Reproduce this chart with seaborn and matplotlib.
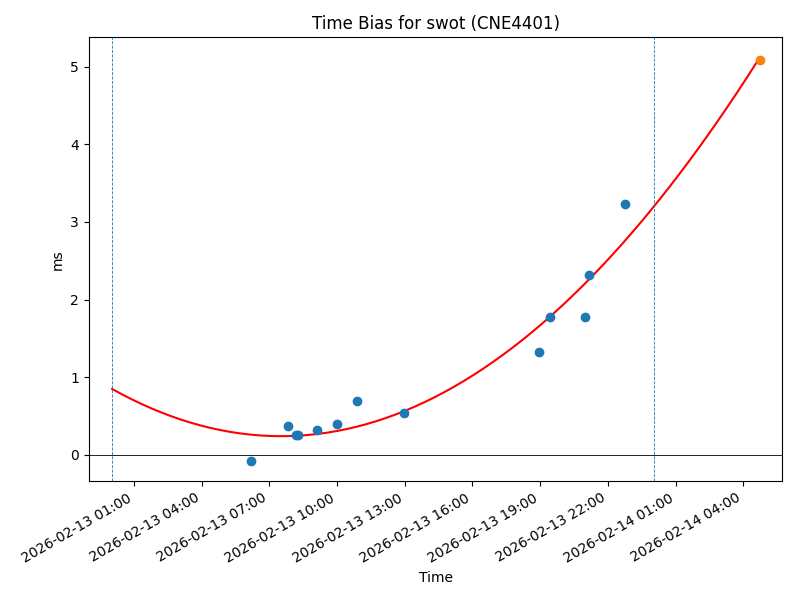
import matplotlib
matplotlib.use('Agg')

import matplotlib.pyplot as plt
import matplotlib.dates as mdates
import seaborn as sns
import pandas as pd
import numpy as np

# observed time bias samples (ms)
obs_times = ['2026-02-13 06:11', '2026-02-13 07:50', '2026-02-13 08:10', '2026-02-13 08:17',
             '2026-02-13 09:07', '2026-02-13 09:59', '2026-02-13 10:53', '2026-02-13 12:59',
             '2026-02-13 18:58', '2026-02-13 19:27', '2026-02-13 20:58', '2026-02-13 21:10',
             '2026-02-13 22:46']
obs_bias = [-0.08, 0.37, 0.25, 0.25, 0.32, 0.40, 0.69, 0.54, 1.32, 1.78, 1.77, 2.32, 3.23]

# predicted value at end of the window
pred_times = ['2026-02-14 04:44']
pred_bias = [5.09]

# fit window boundaries
window_lines = ['2026-02-13 00:02', '2026-02-14 00:02']

title = 'Time Bias for swot (CNE4401)'

BLUE = '#1f77b4'
ORANGE = '#ff7f0e'

df = pd.DataFrame({'time': pd.to_datetime(obs_times), 'bias': obs_bias})
pred = pd.DataFrame({'time': pd.to_datetime(pred_times), 'bias': pred_bias})
vlines = pd.to_datetime(window_lines)

# quadratic fit over hours
t0 = vlines[0]
hrs = (df['time'] - t0).dt.total_seconds() / 3600
coef = np.polyfit(hrs, df['bias'], 2)
t_end = (pred['time'].iloc[0] - t0).total_seconds() / 3600
grid = np.linspace(0, t_end, 200)
fit = pd.DataFrame({'time': t0 + pd.to_timedelta(grid, unit='h'),
                    'bias': np.polyval(coef, grid)})

fig, ax = plt.subplots(figsize=(8, 6), dpi=100)

sns.lineplot(data=fit, x='time', y='bias', color='red', ax=ax, estimator=None, sort=False)
sns.scatterplot(data=df, x='time', y='bias', color=BLUE, s=36, edgecolor=BLUE, linewidth=1, ax=ax, zorder=3)
sns.scatterplot(data=pred, x='time', y='bias', color=ORANGE, s=36, edgecolor=ORANGE, linewidth=1, ax=ax, zorder=3)

ax.axhline(0, color='black', linewidth=0.6)
for v in vlines:
    ax.axvline(v, color=BLUE, linestyle='--', linewidth=0.6)

ax.set_xlim(pd.Timestamp('2026-02-12 23:00'), pred['time'].iloc[0] + pd.Timedelta(hours=1))

ax.xaxis.set_major_locator(mdates.HourLocator(byhour=range(1, 24, 3)))
ax.xaxis.set_major_formatter(mdates.DateFormatter('%Y-%m-%d %H:%M'))
plt.setp(ax.get_xticklabels(), rotation=30, ha='right')

ax.set_title(title)
ax.set_xlabel('Time')
ax.set_ylabel('ms')

fig.subplots_adjust(left=0.111, right=0.978, top=0.938, bottom=0.198)
fig.savefig('out.png', dpi=100)
plt.close(fig)
